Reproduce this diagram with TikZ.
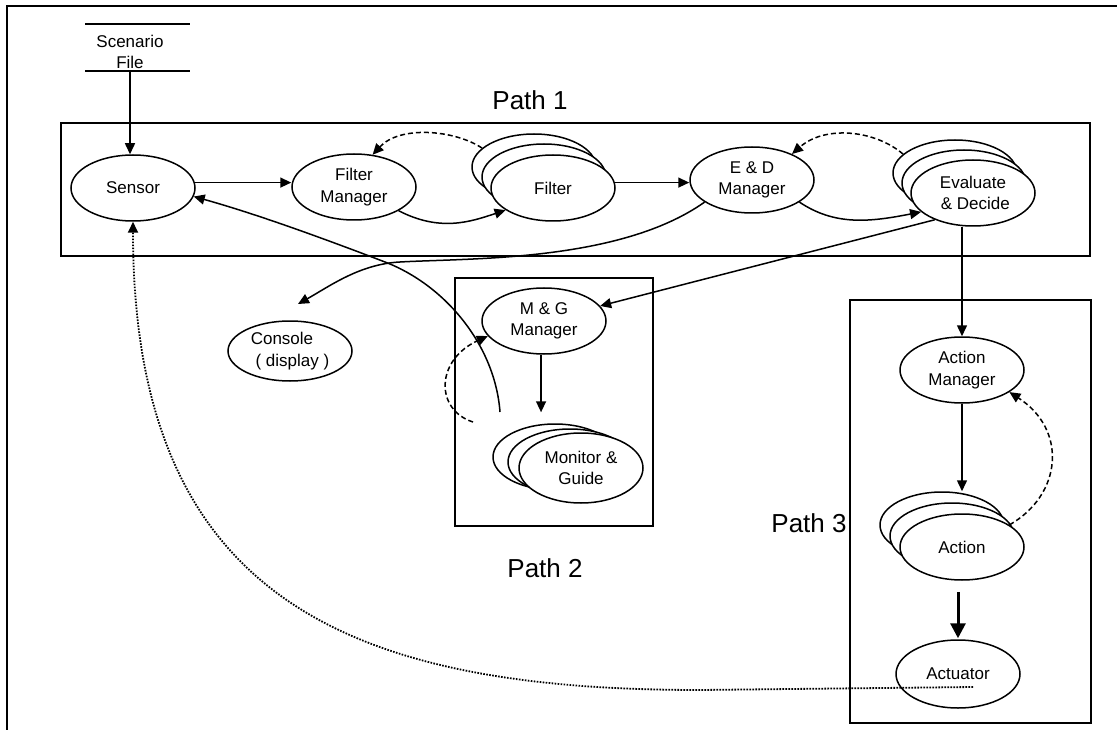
\documentclass[tikz,border=0pt]{standalone}
\usepackage{fontspec}
\setmainfont{Liberation Sans}
\usetikzlibrary{shapes.geometric,arrows.meta,calc}
\begin{document}
\begin{tikzpicture}[x=1pt,y=-1pt,
 el/.style={ellipse,draw,line width=1.5pt,minimum width=124pt,minimum height=66pt,inner sep=0pt,fill=white,align=center,font=\fontsize{17}{21.5}\selectfont},
 arr/.style={line width=1.5pt,-{Triangle[length=11pt,width=10pt]}},
 darr/.style={arr,dash pattern=on 5pt off 3pt},
 dotarr/.style={arr,line width=1.8pt,dash pattern=on 1.6pt off 1.4pt},
 thickarr/.style={line width=3pt,-{Triangle[length=15pt,width=15pt]}},
 pbox/.style={draw,line width=2.5pt},
 plabel/.style={font=\fontsize{26}{30}\selectfont},
 txt/.style={font=\fontsize{17}{21.5}\selectfont,align=center,inner sep=2pt},
]
\useasboundingbox (0,0) rectangle (1117,730);
% outer frame
\draw[line width=2pt] (7,730) -- (7,6) -- (1117,6);

% path boxes
\draw[pbox] (61,123) rectangle (1090,256);
\draw[pbox] (455,278) rectangle (653,526);
\draw[pbox] (850,300) rectangle (1091,723);

% labels
\node[plabel] (p1) at (530,100) {Path 1};
\node[plabel] (p2) at (545,568) {Path 2};
\node[plabel] (p3) at (809,523) {Path 3};

% scenario file store
\draw[line width=1.4pt] (85,24) -- (190,24);
\draw[line width=1.4pt] (85,71) -- (190,71);
\node[txt] (scen) at (130,52) {Scenario\\File};

% nodes
\node[el] (sensor) at (133,188) {Sensor};
\node[el] (fm) at (354,187) {Filter\\Manager};
\node[el] (filtb2) at (534,167) {};
\node[el] (filtb1) at (544,177) {};
\node[el] (filt) at (553,188) {Filter};
\node[el] (ed) at (752,180) {E \& D\\Manager};
\node[el] (evb2) at (955,173) {};
\node[el] (evb1) at (964,183) {};
\node[el] (ev) at (973,193) {Evaluate\\\ \& Decide};
\node[el,align=left,minimum height=60pt] (con) at (290,351) {Console\\\ ( display )};
\node[el] (mg) at (544,321) {M \& G\\Manager};
\node[el] (monb2) at (555,457) {};
\node[el] (monb1) at (570,462) {};
\node[el,minimum height=70pt] (mon) at (581,468) {Monitor \&\\Guide};
\node[el] (am) at (962,370) {Action\\Manager};
\node[el] (actb2) at (942,525) {};
\node[el] (actb1) at (952,536) {};
\node[el] (act) at (962,547) {Action};
\node[el,minimum height=68pt] (actu) at (958,674) {Actuator};

% free ends
\coordinate (mgs) at (500,412);
\coordinate (cin) at (298,304);
\coordinate (mgd) at (473,422);
\coordinate (actd) at (973,687);

% connectors
\draw[arr] (scen.south) -- (scen.south |- sensor.north);
\draw[arr] (sensor.5) -- (sensor.5 -| fm.west);
\draw[arr] (fm.-28) .. controls (440,232) and (470,222) .. (filt.205);
\draw[arr] (filt.5) -- (filt.5 -| ed.west);
\draw[arr] (ed.-25) .. controls (835,226) and (870,222) .. (ev.200);
\draw[darr] (filtb2.160) .. controls (455,130) and (400,125) .. (fm.60);
\draw[darr] (evb2.160) .. controls (875,130) and (825,125) .. (ed.33);
\draw[arr] (mgs) .. controls (495,345) and (445,285) .. (385,262) .. controls (330,241) and (260,215) .. (sensor.-8);
\draw[arr] (ed.205) .. controls (620,262) and (470,258) .. (400,262) .. controls (360,264) and (330,286) .. (cin);
\draw[arr] (ev.215) -- (mg.15);
\draw[arr] (am.north |- ev.south) -- (am.north);
\draw[arr,shorten >=11pt] (mg.265) -- (mg.265 |- monb2.north);
\draw[darr] (mgd) .. controls (435,410) and (435,360) .. (mg.195);
\draw[arr] (am.south) -- (am.south |- actb2.north);
\draw[thickarr,shorten <=11pt,shorten >=1pt] (actu.north |- act.south) -- (actu.north);
\draw[darr] (act.25) .. controls (1062,495) and (1068,430) .. (am.-25);
\draw[dotarr] (actd) -- (700,690) .. controls (350,690) and (133,600) .. (sensor.south);
\end{tikzpicture}
\end{document}
